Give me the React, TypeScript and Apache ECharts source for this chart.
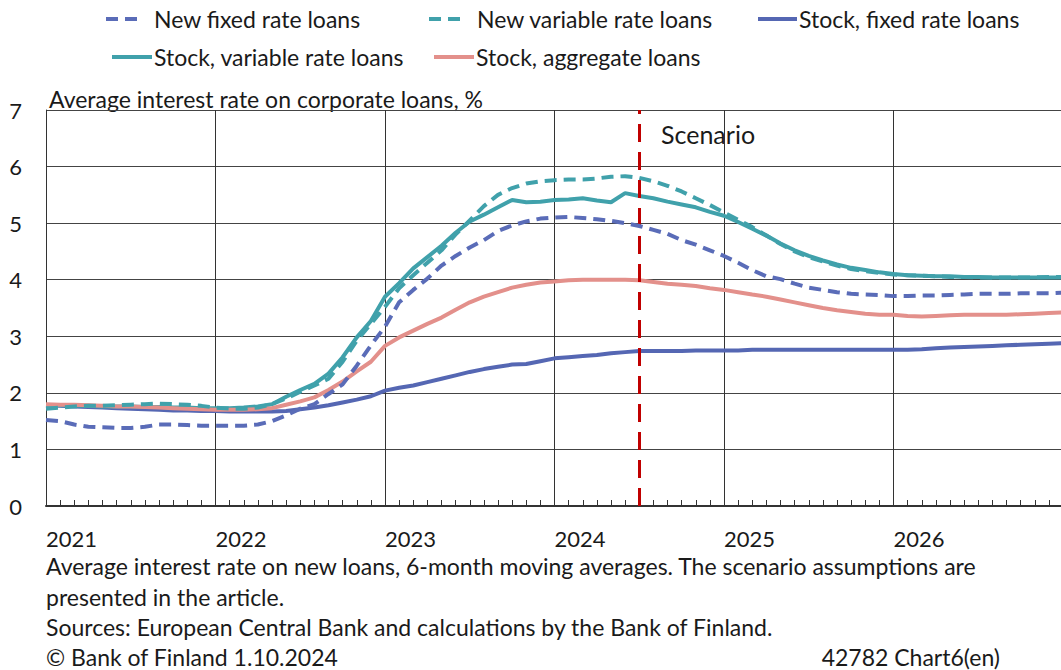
import React, { useEffect, useRef } from "react";
import * as echarts from "echarts";

// Months from Jan 2021 (index 0) to Jan 2027 (index 72)
const startYear = 2021;
const yearTicks = [2021, 2022, 2023, 2024, 2025, 2026];
const scenarioStartMonth = 42; // July 2024

const newFixed = [
  1.52, 1.5, 1.44, 1.4, 1.39, 1.38, 1.38, 1.4, 1.44, 1.44, 1.43, 1.42,
  1.42, 1.42, 1.42, 1.44, 1.5, 1.6, 1.72, 1.8, 1.98, 2.15, 2.48, 2.84,
  3.17, 3.6, 3.82, 4.02, 4.25, 4.42, 4.57, 4.7, 4.86, 4.96, 5.03, 5.08,
  5.1, 5.11, 5.09, 5.07, 5.04, 5.0, 4.95, 4.88, 4.81, 4.7, 4.62, 4.52,
  4.42, 4.3, 4.17, 4.06, 4.01, 3.93, 3.86, 3.82, 3.78, 3.75, 3.74, 3.73,
  3.71, 3.71, 3.72, 3.72, 3.73, 3.74, 3.75, 3.75, 3.75, 3.76, 3.76, 3.76,
  3.77,
];
const newVariable = [
  1.72, 1.74, 1.76, 1.77, 1.77, 1.78, 1.79, 1.8, 1.81, 1.8, 1.79, 1.77,
  1.74, 1.72, 1.72, 1.74, 1.8, 1.9, 2.02, 2.13, 2.25, 2.55, 2.92, 3.22,
  3.52, 3.85, 4.08, 4.3, 4.52, 4.8, 5.05, 5.3, 5.5, 5.62, 5.7, 5.74,
  5.76, 5.77, 5.77, 5.79, 5.82, 5.83, 5.8, 5.74, 5.66, 5.56, 5.44, 5.32,
  5.19, 5.06, 4.93, 4.78, 4.63, 4.5, 4.4, 4.32, 4.25, 4.19, 4.15, 4.12,
  4.09, 4.08, 4.07, 4.06, 4.05, 4.05, 4.04, 4.04, 4.04, 4.04, 4.04, 4.05,
  4.05,
];
const stockFixed = [
  1.78, 1.77, 1.76, 1.75, 1.74, 1.73, 1.72, 1.71, 1.7, 1.69, 1.69, 1.68,
  1.68, 1.67, 1.67, 1.67, 1.67, 1.68, 1.71, 1.74, 1.78, 1.83, 1.88, 1.94,
  2.04, 2.09, 2.13, 2.19, 2.25, 2.31, 2.37, 2.42, 2.46, 2.5, 2.51, 2.56,
  2.61, 2.63, 2.65, 2.67, 2.7, 2.72, 2.74, 2.74, 2.74, 2.74, 2.75, 2.75,
  2.75, 2.75, 2.76, 2.76, 2.76, 2.76, 2.76, 2.76, 2.76, 2.76, 2.76, 2.76,
  2.76, 2.76, 2.77, 2.79, 2.8, 2.81, 2.82, 2.83, 2.84, 2.85, 2.86, 2.87,
  2.88,
];
const stockVariable = [
  1.78, 1.78, 1.77, 1.77, 1.76, 1.76, 1.76, 1.75, 1.75, 1.74, 1.74, 1.73,
  1.73, 1.73, 1.74, 1.76, 1.8, 1.93, 2.05, 2.16, 2.34, 2.63, 2.98, 3.27,
  3.7, 3.94, 4.2, 4.4, 4.6, 4.83, 5.03, 5.15, 5.28, 5.41, 5.37, 5.38,
  5.41, 5.42, 5.44, 5.4, 5.37, 5.53, 5.48, 5.44, 5.38, 5.33, 5.28, 5.2,
  5.13, 5.02, 4.9, 4.78, 4.64, 4.52, 4.42, 4.34, 4.27, 4.21, 4.17, 4.13,
  4.1, 4.08, 4.07, 4.06, 4.06, 4.05, 4.05, 4.04, 4.04, 4.04, 4.04, 4.04,
  4.04,
];
const stockAggregate = [
  1.8, 1.79, 1.79, 1.78, 1.77, 1.76, 1.76, 1.75, 1.74, 1.73, 1.72, 1.71,
  1.7, 1.7, 1.7, 1.71, 1.73, 1.79, 1.85, 1.92, 2.05, 2.2, 2.38, 2.55,
  2.83, 2.98, 3.1, 3.22, 3.33, 3.47, 3.6, 3.7, 3.78, 3.86, 3.91, 3.95,
  3.97, 3.99, 4.0, 4.0, 4.0, 4.0, 3.99, 3.96, 3.93, 3.91, 3.89, 3.85,
  3.82, 3.78, 3.74, 3.7, 3.65, 3.6, 3.55, 3.5, 3.46, 3.43, 3.4, 3.38,
  3.38, 3.36, 3.35, 3.36, 3.37, 3.38, 3.38, 3.38, 3.38, 3.39, 3.4, 3.41,
  3.42,
];

const seriesNames = [
  "New fixed rate loans",
  "New variable rate loans",
  "Stock, fixed rate loans",
  "Stock, variable rate loans",
  "Stock, aggregate loans",
];

const BLUE = "#5567b3";
const BLUE_D = "#5a6cb8";
const TEAL = "#40a1ab";
const SALMON = "#e3908b";
const RED = "#c00000";
const TXT = "#1a1a1a";
const FONT = "Lato, 'Open Sans', sans-serif";
const FS = 23;
const AXIS_FS = 22;

const toPairs = (arr: number[]) => arr.map((v, i) => [i, v]);

export default function App() {
  const ref = useRef<HTMLDivElement>(null);
  useEffect(() => {
    if (!ref.current) return;
    const chart = echarts.init(ref.current, undefined, { renderer: "svg" });

    const legendItems = [
      { name: seriesNames[0], color: BLUE_D, dash: true, x1: 106, x2: 140, tx: 154, y: 19 },
      { name: seriesNames[1], color: TEAL, dash: true, x1: 429, x2: 463, tx: 477, y: 19 },
      { name: seriesNames[2], color: BLUE, dash: false, x1: 758, x2: 797, tx: 799, y: 19 },
      { name: seriesNames[3], color: TEAL, dash: false, x1: 112, x2: 152, tx: 154, y: 57 },
      { name: seriesNames[4], color: SALMON, dash: false, x1: 434, x2: 474, tx: 476, y: 57 },
    ];

    const graphics: any[] = [];
    legendItems.forEach((it) => {
      graphics.push({
        type: "line",
        shape: { x1: it.x1, y1: it.y, x2: it.x2, y2: it.y },
        style: { stroke: it.color, lineWidth: 4, lineDash: it.dash ? [12, 7] : null },
      });
      graphics.push({
        type: "text",
        x: it.tx,
        y: it.y,
        style: { text: it.name, fontSize: FS, fontFamily: FONT, fill: TXT, verticalAlign: "middle" },
      });
    });
    const texts = [
      { t: "Average interest rate on corporate loans, %", x: 49, y: 99, s: FS },
      { t: "Scenario", x: 661, y: 134, s: 25 },
      { t: "Average interest rate on new loans, 6-month moving averages. The scenario assumptions are", x: 46, y: 566, s: FS },
      { t: "presented in the article.", x: 46, y: 597, s: FS },
      { t: "Sources: European Central Bank and calculations by the Bank of Finland.", x: 46, y: 627, s: FS },
      { t: "© Bank of Finland 1.10.2024", x: 46, y: 657, s: FS },
    ];
    texts.forEach((t) =>
      graphics.push({
        type: "text",
        x: t.x,
        y: t.y,
        style: { text: t.t, fontSize: t.s, fontFamily: FONT, fill: TXT, verticalAlign: "middle" },
      })
    );
    graphics.push({
      type: "text",
      x: 1000,
      y: 657,
      style: { text: "42782 Chart6(en)", fontSize: FS, fontFamily: FONT, fill: TXT, verticalAlign: "middle", align: "right" },
    });

    const lineSeries = (name: string, data: number[], color: string, dashed: boolean, z: number) => ({
      name,
      type: "line",
      data: toPairs(data),
      symbol: "none",
      z,
      lineStyle: { color, width: 4, type: dashed ? [12, 7] : "solid" },
      itemStyle: { color },
    });

    const sFixed: any = lineSeries(seriesNames[2], stockFixed, BLUE, false, 2);
    sFixed.markLine = {
      silent: true,
      symbol: "none",
      label: { show: false },
      lineStyle: { color: RED, width: 3, type: [18, 10] },
      data: [{ xAxis: scenarioStartMonth }],
    };

    chart.setOption({
      animation: false,
      backgroundColor: "#ffffff",
      grid: { left: 46, right: 0, top: 110, bottom: 164, containLabel: false },
      xAxis: {
        type: "value",
        min: 0,
        max: 72,
        interval: 12,
        axisLine: { show: true, lineStyle: { color: "#333", width: 2 } },
        axisTick: { show: true, inside: true, length: 6, lineStyle: { color: "#333" } },
        minorTick: { show: true, splitNumber: 12, length: 6, lineStyle: { color: "#333" } },
        splitLine: { show: true, lineStyle: { color: "#333", width: 1 } },
        axisLabel: {
          formatter: (v: number) => {
            const idx = Math.round(v / 12);
            return idx < yearTicks.length ? String(startYear + idx) : "";
          },
          align: "left",
          margin: 21,
          fontSize: AXIS_FS,
          fontFamily: FONT,
          color: TXT,
        },
      },
      yAxis: {
        type: "value",
        min: 0,
        max: 7,
        interval: 1,
        axisLine: { show: true, lineStyle: { color: "#333", width: 1 } },
        axisTick: { show: false },
        splitLine: { show: true, lineStyle: { color: "#444", width: 1 } },
        axisLabel: { margin: 24, fontSize: AXIS_FS, fontFamily: FONT, color: TXT },
      },
      graphic: graphics,
      series: [
        sFixed,
        lineSeries(seriesNames[3], stockVariable, TEAL, false, 3),
        lineSeries(seriesNames[4], stockAggregate, SALMON, false, 4),
        lineSeries(seriesNames[1], newVariable, TEAL, true, 5),
        lineSeries(seriesNames[0], newFixed, BLUE_D, true, 6),
      ],
    });
    return () => chart.dispose();
  }, []);
  return (
    <div style={{ position: "absolute", left: 0, top: 0, width: 1061, height: 670, overflow: "hidden", background: "#fff" }}>
      <div ref={ref} style={{ width: 1066, height: 670 }} />
    </div>
  );
}
